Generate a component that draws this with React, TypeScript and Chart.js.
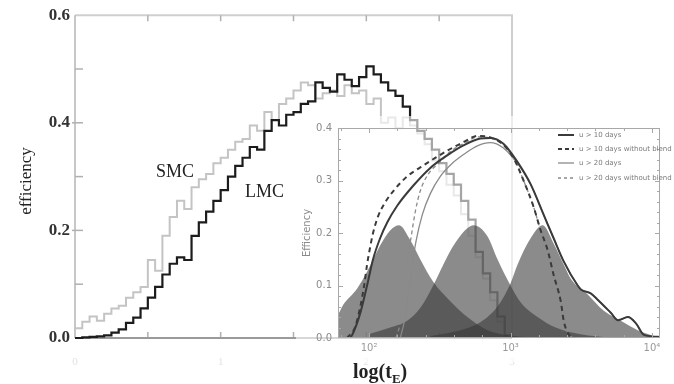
import React, { useEffect, useRef } from 'react';
import { Chart, registerables } from 'chart.js';
Chart.register(...registerables);

// ---------- main chart data (log tE bins, efficiency) ----------
const logBins = [
  0.00, 0.05, 0.10, 0.15, 0.20, 0.25, 0.30, 0.35, 0.40, 0.45,
  0.50, 0.55, 0.60, 0.65, 0.70, 0.75, 0.80, 0.85, 0.90, 0.95,
  1.00, 1.05, 1.10, 1.15, 1.20, 1.25, 1.30, 1.35, 1.40, 1.45,
  1.50, 1.55, 1.60, 1.65, 1.70, 1.75, 1.80, 1.85, 1.90, 1.95,
  2.00, 2.05, 2.10, 2.15, 2.20, 2.25, 2.30, 2.35, 2.40, 2.45,
  2.50, 2.55, 2.60, 2.65, 2.70, 2.75, 2.80, 2.85, 2.90, 2.95,
  3.00,
];
const lmcValues = [
  0.000, 0.000, 0.001, 0.002, 0.003, 0.005, 0.010, 0.016, 0.028, 0.038,
  0.055, 0.075, 0.095, 0.118, 0.138, 0.150, 0.145, 0.190, 0.215, 0.235,
  0.255, 0.275, 0.300, 0.320, 0.335, 0.355, 0.350, 0.385, 0.405, 0.395,
  0.415, 0.420, 0.435, 0.440, 0.475, 0.465, 0.458, 0.490, 0.480, 0.468,
  0.485, 0.505, 0.490, 0.475, 0.460, 0.450, 0.430, 0.405, 0.385, 0.370,
  0.350, 0.325, 0.305, 0.285, 0.255, 0.220, 0.160, 0.120, 0.085, 0.040,
  0.005,
];
const smcValues = [
  0.015, 0.018, 0.030, 0.040, 0.032, 0.045, 0.055, 0.060, 0.075, 0.085,
  0.095, 0.145, 0.125, 0.190, 0.225, 0.255, 0.240, 0.280, 0.295, 0.305,
  0.325, 0.335, 0.350, 0.365, 0.370, 0.395, 0.385, 0.420, 0.405, 0.435,
  0.445, 0.460, 0.475, 0.470, 0.445, 0.455, 0.460, 0.450, 0.470, 0.455,
  0.460, 0.435, 0.445, 0.400, 0.410, 0.390, 0.410, 0.395, 0.380, 0.360,
  0.330, 0.310, 0.285, 0.265, 0.230, 0.190, 0.150, 0.110, 0.070, 0.030,
  0.005,
];
const mainYTicks = [0, 0.2, 0.4, 0.6];

// ---------- inset data (tE in days, efficiency) ----------
const g1Days = [50, 60.3, 65.5, 82.2, 96.8, 119.7, 140.9, 163.3, 195, 230, 284, 375, 495, 687, 1000, 1622];
const g1Eff = [0.030, 0.045, 0.063, 0.094, 0.126, 0.176, 0.205, 0.215, 0.187, 0.150, 0.107, 0.070, 0.040, 0.015, 0.005, 0.0];
const g2Days = [101.6, 141, 186, 230, 284, 357, 421, 495, 547, 687, 809, 1000, 1178, 1552, 2084, 3133, 5129];
const g2Eff = [0.008, 0.020, 0.033, 0.057, 0.100, 0.155, 0.187, 0.209, 0.215, 0.194, 0.150, 0.100, 0.068, 0.040, 0.020, 0.007, 0.0];
const g3Days = [271, 442, 612, 809, 1000, 1122, 1387, 1687, 2018, 2377, 2667, 3516, 4571, 6026, 7943, 10715, 12589];
const g3Eff = [0.004, 0.015, 0.030, 0.060, 0.104, 0.140, 0.190, 0.215, 0.180, 0.140, 0.113, 0.083, 0.052, 0.033, 0.015, 0.003, 0.0];

const u10Days = [73.3, 75.7, 86.3, 96.8, 106.7, 119.7, 134.3, 158.1, 205, 271, 357, 465, 612, 721, 891, 1122, 1387, 1714, 2018, 2377, 2985, 3162, 3690, 4169, 5117, 5754, 6761, 7709, 8770, 11588];
const u10Eff = [0.0, 0.005, 0.046, 0.100, 0.150, 0.190, 0.220, 0.252, 0.290, 0.324, 0.348, 0.367, 0.380, 0.381, 0.370, 0.335, 0.293, 0.235, 0.190, 0.146, 0.100, 0.092, 0.085, 0.072, 0.048, 0.034, 0.040, 0.028, 0.006, 0.002];
const u10nbDays = [69.7, 79.4, 86.3, 92.3, 96.8, 101.6, 106.7, 115.9, 129.7, 152.8, 186.2, 230.1, 293.8, 375, 479.7, 583.4, 721, 891, 1050, 1236, 1455, 1633, 1828, 2018, 2265, 2377, 2535, 2754];
const u10nbEff = [0.0, 0.020, 0.057, 0.100, 0.140, 0.172, 0.200, 0.232, 0.258, 0.284, 0.308, 0.325, 0.343, 0.360, 0.375, 0.385, 0.382, 0.368, 0.343, 0.300, 0.250, 0.205, 0.168, 0.120, 0.070, 0.033, 0.010, 0.0];
const u20Days = [166, 177, 189, 202, 215, 238, 271, 319, 388, 480, 583, 721, 891, 1050, 1122, 1387, 1714, 2018, 2377, 2985, 3162, 3690, 4169, 5117, 5754, 6761, 7709, 8770, 11588];
const u20Eff = [0.0, 0.030, 0.080, 0.140, 0.185, 0.235, 0.275, 0.308, 0.333, 0.352, 0.366, 0.372, 0.362, 0.342, 0.333, 0.293, 0.235, 0.190, 0.146, 0.100, 0.092, 0.085, 0.072, 0.048, 0.034, 0.040, 0.028, 0.006, 0.002];
const u20nbDays = [155, 166, 174, 186, 199, 212, 230, 262, 319, 375, 480, 583, 721, 891, 1050, 1236, 1455, 1633, 1828, 2018, 2265, 2377, 2535, 2754];
const u20nbEff = [0.0, 0.030, 0.080, 0.144, 0.195, 0.240, 0.280, 0.312, 0.336, 0.355, 0.372, 0.383, 0.381, 0.367, 0.343, 0.300, 0.250, 0.205, 0.168, 0.120, 0.070, 0.033, 0.010, 0.0];

const insetXTicks = [100, 1000, 10000];
const insetXLabels = ['10²', '10³', '10⁴'];
const legendLabels = ['u > 10 days', 'u > 10 days without blend', 'u > 20 days', 'u > 20 days without blend'];

const pts = (xs: number[], ys: number[]) => xs.map((x, i) => ({ x, y: ys[i] }));

const SERIF = '"Liberation Serif", "DejaVu Serif", serif';
const SANS = '"DejaVu Sans", "Liberation Sans", sans-serif';

const mainFrame = {
  id: 'mainFrame',
  beforeDatasetsDraw(chart: any) {
    const { ctx, chartArea: a, scales } = chart;
    const xs = scales.x, ys = scales.y;
    ctx.save();
    ctx.strokeStyle = '#cfcfcf';
    ctx.lineWidth = 2;
    ctx.beginPath();
    ctx.moveTo(a.left, a.top);
    ctx.lineTo(a.right, a.top);
    ctx.lineTo(a.right, a.bottom);
    ctx.stroke();
    ctx.strokeStyle = '#b5b5b5';
    ctx.lineWidth = 1.5;
    ctx.beginPath();
    ctx.moveTo(a.left, a.top);
    ctx.lineTo(a.left, a.bottom);
    ctx.stroke();
    ctx.strokeStyle = '#b0b0b0';
    ctx.lineWidth = 1.5;
    for (let v = 0.5; v < 3; v += 0.5) {
      const px = xs.getPixelForValue(v);
      ctx.beginPath();
      ctx.moveTo(px, a.top);
      ctx.lineTo(px, a.top + 6);
      ctx.moveTo(px, a.bottom);
      ctx.lineTo(px, a.bottom - 6);
      ctx.stroke();
    }
    for (let i = 1; i <= 5; i++) {
      const py = ys.getPixelForValue(i * 0.1);
      ctx.beginPath();
      ctx.moveTo(a.left - (i % 2 === 0 ? 3 : 0), py);
      ctx.lineTo(a.left + 8, py);
      ctx.stroke();
    }
    ctx.strokeStyle = '#9a9a9a';
    ctx.lineWidth = 2;
    ctx.beginPath();
    ctx.moveTo(a.left, a.bottom);
    ctx.lineTo(a.right, a.bottom);
    ctx.stroke();
    ctx.restore();
  },
  afterDraw(chart: any) {
    const { ctx } = chart;
    ctx.save();
    ctx.fillStyle = '#222';
    ctx.font = `17px ${SERIF}`;
    ctx.textAlign = 'center';
    ctx.textBaseline = 'middle';
    ctx.translate(27, 181);
    ctx.rotate(-Math.PI / 2);
    ctx.fillText('efficiency', 0, 0);
    ctx.restore();

    ctx.save();
    ctx.fillStyle = '#222';
    ctx.font = `18px ${SERIF}`;
    ctx.textBaseline = 'alphabetic';
    ctx.textAlign = 'left';
    ctx.fillText('SMC', 156, 177);
    ctx.fillText('LMC', 245, 197);
    ctx.font = `bold 20px ${SERIF}`;
    let x = 353;
    const base = 378;
    ctx.fillText('log(t', x, base);
    x += ctx.measureText('log(t').width;
    ctx.font = `bold 13px ${SERIF}`;
    ctx.fillText('E', x, base + 5);
    x += ctx.measureText('E').width;
    ctx.font = `bold 20px ${SERIF}`;
    ctx.fillText(')', x, base);
    ctx.restore();
  },
};

const insetFrame = {
  id: 'insetFrame',
  afterDatasetsDraw(chart: any) {
    const { ctx, chartArea: a, scales } = chart;
    const xs = scales.x, ys = scales.y;
    ctx.save();
    ctx.strokeStyle = '#a8a8a8';
    ctx.lineWidth = 1;
    ctx.strokeRect(a.left + 0.5, a.top + 0.5, a.right - a.left - 1, a.bottom - a.top - 1);
    ctx.beginPath();
    for (let i = 1; i < 20; i++) {
      const v = i * 0.02;
      const py = Math.round(ys.getPixelForValue(v)) + 0.5;
      const len = i % 5 === 0 ? 5 : 3;
      ctx.moveTo(a.left, py);
      ctx.lineTo(a.left + len, py);
      ctx.moveTo(a.right, py);
      ctx.lineTo(a.right - len, py);
    }
    for (let l = 1.8; l <= 4.01; l += 0.2) {
      const px = Math.round(xs.getPixelForValue(Math.pow(10, l))) + 0.5;
      const major = Math.abs(l - Math.round(l)) < 0.01;
      const len = major ? 5 : 3;
      ctx.moveTo(px, a.top);
      ctx.lineTo(px, a.top + len);
      ctx.moveTo(px, a.bottom);
      ctx.lineTo(px, a.bottom - len);
    }
    ctx.stroke();
    ctx.restore();
  },
  afterDraw(chart: any) {
    const { ctx } = chart;
    ctx.save();
    ctx.fillStyle = '#8a8a8a';
    ctx.font = `10px ${SANS}`;
    ctx.textAlign = 'center';
    ctx.textBaseline = 'middle';
    ctx.translate(11, 117);
    ctx.rotate(-Math.PI / 2);
    ctx.fillText('Efficiency', 0, 0);
    ctx.restore();
    const styles = [
      { c: '#3a3a3a', w: 2, d: [] as number[] },
      { c: '#3a3a3a', w: 2, d: [4, 3] },
      { c: '#8a8a8a', w: 1.3, d: [] as number[] },
      { c: '#8a8a8a', w: 1.3, d: [3, 3] },
    ];
    const rows = [19, 33, 47, 62];
    ctx.save();
    ctx.font = `7px ${SANS}`;
    ctx.textBaseline = 'middle';
    ctx.textAlign = 'left';
    legendLabels.forEach((lab, i) => {
      const s = styles[i];
      ctx.strokeStyle = s.c;
      ctx.lineWidth = s.w;
      ctx.setLineDash(s.d);
      ctx.beginPath();
      ctx.moveTo(262, rows[i]);
      ctx.lineTo(278, rows[i]);
      ctx.stroke();
      ctx.setLineDash([]);
      ctx.fillStyle = '#7a7a7a';
      ctx.fillText(lab, 283, rows[i]);
    });
    ctx.restore();
  },
};

export default function App() {
  const mainRef = useRef<HTMLCanvasElement>(null);
  const insetRef = useRef<HTMLCanvasElement>(null);

  useEffect(() => {
    const main = new Chart(mainRef.current as HTMLCanvasElement, {
      type: 'line',
      data: {
        datasets: [
          {
            label: 'LMC',
            data: pts(logBins, lmcValues),
            borderColor: '#1c1c1c',
            borderWidth: 2.2,
            stepped: 'after',
            pointRadius: 0,
            fill: false,
            clip: false,
          } as any,
          {
            label: 'SMC',
            data: pts(logBins, smcValues),
            borderColor: '#c4c4c4',
            borderWidth: 2,
            stepped: 'after',
            pointRadius: 0,
            fill: false,
            clip: false,
          } as any,
        ],
      },
      options: {
        animation: false,
        responsive: false,
        maintainAspectRatio: false,
        events: [],
        layout: { padding: { left: 0, top: 14, right: 162, bottom: 0 } },
        plugins: { legend: { display: false }, tooltip: { enabled: false } },
        scales: {
          x: {
            type: 'linear',
            min: 0,
            max: 3,
            grid: { display: false, drawTicks: false },
            border: { display: false },
            ticks: { stepSize: 1, color: '#e2e2e2', font: { size: 11, family: SERIF }, padding: 18, maxRotation: 0 },
            afterFit: (s: any) => { s.height = 46; },
          },
          y: {
            min: 0,
            max: 0.6,
            grid: { display: false, drawTicks: false },
            border: { display: false },
            afterBuildTicks: (s: any) => { s.ticks = mainYTicks.map((v) => ({ value: v })); },
            ticks: {
              padding: 5,
              color: '#333',
              font: { family: SERIF, size: 17, weight: 'bold' },
              callback: (v: any) => Number(v).toFixed(1),
            },
            afterFit: (s: any) => { s.width = 75; },
          },
        },
      } as any,
      plugins: [mainFrame],
    });

    const gFill = 'rgba(55,55,55,0.58)';
    const gauss = (d: number[], e: number[]) => ({
      data: pts(d, e),
      borderColor: 'rgba(0,0,0,0)',
      borderWidth: 0,
      backgroundColor: gFill,
      fill: 'origin',
      pointRadius: 0,
      cubicInterpolationMode: 'monotone',
      order: 10,
    });
    const curve = (d: number[], e: number[], c: string, w: number, dash: number[]) => ({
      data: pts(d, e),
      borderColor: c,
      borderWidth: w,
      borderDash: dash,
      fill: false,
      pointRadius: 0,
      cubicInterpolationMode: 'monotone',
      order: 0,
    });

    const inset = new Chart(insetRef.current as HTMLCanvasElement, {
      type: 'line',
      data: {
        datasets: [
          curve(u10Days, u10Eff, '#3a3a3a', 2, []),
          curve(u10nbDays, u10nbEff, '#3a3a3a', 2, [5, 4]),
          curve(u20Days, u20Eff, '#8a8a8a', 1.3, []),
          curve(u20nbDays, u20nbEff, '#8a8a8a', 1.3, [4, 3]),
          gauss(g1Days, g1Eff),
          gauss(g2Days, g2Eff),
          gauss(g3Days, g3Eff),
        ] as any,
      },
      options: {
        animation: false,
        responsive: false,
        maintainAspectRatio: false,
        events: [],
        layout: { padding: { left: 0, top: 6, right: 14, bottom: 0 } },
        plugins: { legend: { display: false }, tooltip: { enabled: false } },
        scales: {
          x: {
            type: 'logarithmic',
            min: 60.3,
            max: 11400,
            grid: { display: false, drawTicks: false },
            border: { display: false },
            afterBuildTicks: (s: any) => { s.ticks = insetXTicks.map((v) => ({ value: v })); },
            ticks: {
              autoSkip: false,
              maxRotation: 0,
              padding: 4,
              color: '#999',
              font: { family: SANS, size: 10 },
              callback: (v: any) => {
                const i = insetXTicks.indexOf(Number(v));
                return i >= 0 ? insetXLabels[i] : '';
              },
            },
            afterFit: (s: any) => { s.height = 24; },
          },
          y: {
            min: 0,
            max: 0.4,
            grid: { display: false, drawTicks: false },
            border: { display: false },
            ticks: {
              stepSize: 0.1,
              padding: 6,
              color: '#8a8a8a',
              font: { family: SANS, size: 10 },
              callback: (v: any) => Number(v).toFixed(1),
            },
            afterFit: (s: any) => { s.width = 42; },
          },
        },
      } as any,
      plugins: [insetFrame],
    });

    return () => {
      main.destroy();
      inset.destroy();
    };
  }, []);

  return (
    <div style={{ position: 'absolute', left: 0, top: 0, width: 674, height: 384, background: '#fff', overflow: 'hidden' }}>
      <canvas ref={mainRef} width={674} height={384} style={{ position: 'absolute', left: 0, top: 0 }} />
      <canvas
        ref={insetRef}
        width={378}
        height={246}
        style={{ position: 'absolute', left: 296, top: 116, background: 'rgba(255,255,255,0.6)' }}
      />
    </div>
  );
}
